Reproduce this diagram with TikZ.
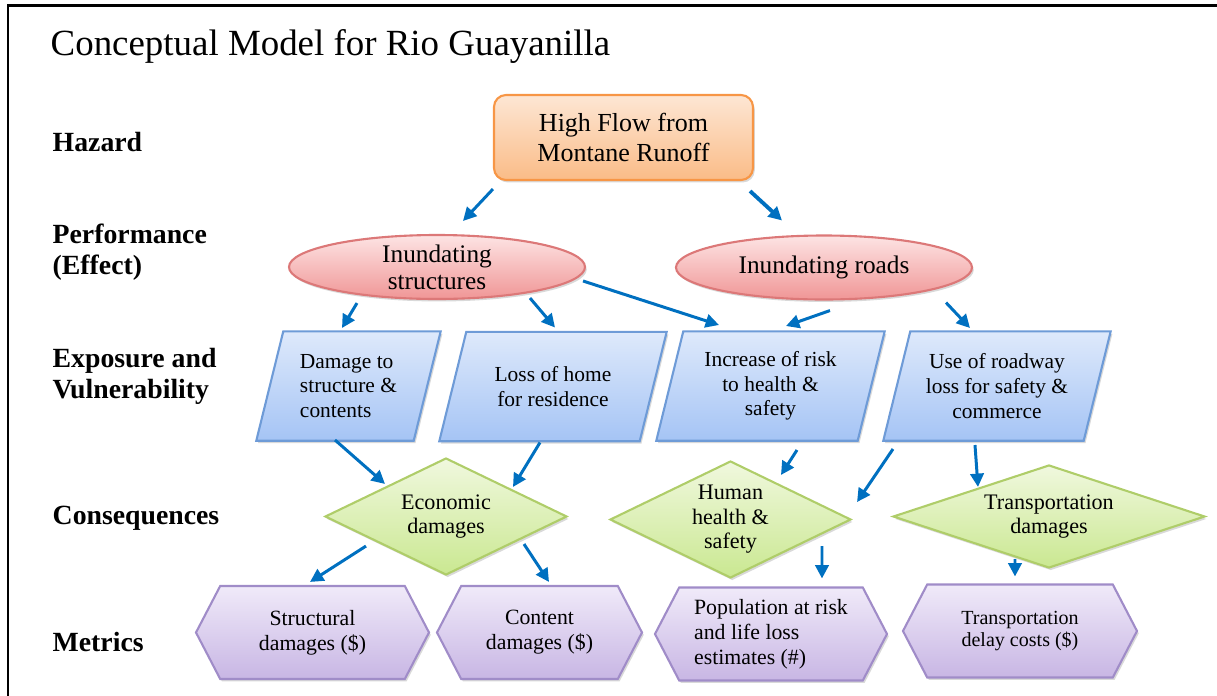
\documentclass[tikz,border=0pt]{standalone}
\usepackage{fontspec}
\setmainfont{Liberation Serif}
\usetikzlibrary{arrows.meta, calc, shapes.geometric, shapes.symbols, shadows, backgrounds}
\definecolor{orline}{RGB}{247,150,70}
\definecolor{ortop}{RGB}{253,230,212}
\definecolor{orbot}{RGB}{250,188,135}
\definecolor{pkline}{RGB}{220,120,120}
\definecolor{pktop}{RGB}{253,228,228}
\definecolor{pkbot}{RGB}{240,150,150}
\definecolor{blline}{RGB}{110,155,215}
\definecolor{bltop}{RGB}{222,233,251}
\definecolor{blbot}{RGB}{165,196,245}
\definecolor{grline}{RGB}{175,205,105}
\definecolor{grtop}{RGB}{240,248,222}
\definecolor{grbot}{RGB}{202,232,145}
\definecolor{puline}{RGB}{160,140,200}
\definecolor{putop}{RGB}{240,234,249}
\definecolor{pubot}{RGB}{200,182,228}
\definecolor{arblue}{RGB}{0,112,192}
\tikzset{
  shad/.style    = {drop shadow={shadow xshift=0.5pt, shadow yshift=-0.7pt,
                   opacity=0.25, fill=black!60}},
  hazard/.style  = {draw=orline, semithick, rounded corners=1.2mm, top color=ortop,
                   bottom color=orbot, minimum width=2.59cm, minimum height=0.85cm,
                   align=center, font=\fontsize{7.4}{8.5}\selectfont, shad},
  effect/.style  = {ellipse, draw=pkline, semithick, top color=pktop, bottom color=pkbot,
                   minimum width=2.96cm, minimum height=0.64cm, inner sep=0pt,
                   align=center, font=\fontsize{7.2}{7.7}\selectfont, shad},
  expo/.style    = {minimum height=1.08cm, inner sep=0pt, align=center,
                   font=\fontsize{6.1}{7}\selectfont},
  expofill/.style= {draw=blline, semithick, top color=bltop, bottom color=blbot, shad},
  conseq/.style  = {diamond, draw=grline, semithick, top color=grtop, bottom color=grbot,
                   inner sep=0pt, aspect=2, align=center,
                   font=\fontsize{6.3}{7}\selectfont, shad},
  metric/.style  = {signal, signal to=east and west, signal pointer angle=125,
                   draw=puline, semithick, top color=putop, bottom color=pubot,
                   minimum height=0.93cm, inner sep=0pt, align=center,
                   font=\fontsize{6.2}{7.1}\selectfont, shad},
  link/.style    = {draw=arblue, line width=0.85pt, -{Triangle[length=3.8pt, width=3.8pt]}},
  rowlab/.style  = {anchor=west, align=left, inner sep=0pt,
                   font=\fontsize{7.9}{8.8}\selectfont\bfseries},
}
\newcommand{\slant}{0.27}

\begin{document}
\begin{tikzpicture}[x=1cm, y=1cm]
  \useasboundingbox (0,0) rectangle (12.17,-6.95);
  \draw[line width=0.85pt] (0.08,-6.96) -- (0.08,-0.05) -- (12.18,-0.05);
  \node[anchor=base west, inner sep=0pt, font=\fontsize{10.5}{12}\selectfont] (title)
    at (0.50,-0.55) {Conceptual Model for Rio Guayanilla};

  \node[rowlab] (lhaz)  at (0.52,-1.42)  {Hazard};
  \node[rowlab] (lperf) at (0.52,-2.52)  {Performance\\(Effect)};
  \node[rowlab] (lexp)  at (0.52,-3.765) {Exposure and\\Vulnerability};
  \node[rowlab] (lcons) at (0.52,-5.18)  {Consequences};
  \node[rowlab] (lmet)  at (0.52,-6.42)  {Metrics};

  \node[hazard] (hazbox) at (6.235,-1.375) {High Flow from\\Montane Runoff};

  \node[effect] (instr)  at (4.37,-2.67)  {Inundating\\structures};
  \node[effect] (inroad) at (8.24,-2.675) {Inundating roads};

  \node[expo, minimum width=1.83cm, align=left] (damage) at (3.485,-3.86)
    {Damage to\\structure \&\\contents};
  \node[expo, minimum width=2.26cm] (home) at (5.53,-3.865) {Loss of home\\for residence};
  \node[expo, minimum width=2.27cm] (risk) at (7.705,-3.86)
    {Increase of risk\\to health \&\\safety};
  \node[expo, minimum width=2.26cm] (road) at (9.97,-3.86)
    {Use of roadway\\loss for safety \&\\commerce};
  % parallelograms behind the exposure texts
  \begin{scope}[on background layer]
    \foreach \n in {damage, home, risk, road}
      \path[expofill] ($(\n.north west)+(\slant,0)$) -- (\n.north east)
        -- ($(\n.south east)+(-\slant,0)$) -- (\n.south west) -- cycle;
  \end{scope}

  \node[conseq, minimum width=2.42cm, minimum height=1.17cm] (econ) at (4.46,-5.165)
    {Economic\\damages};
  \node[conseq, minimum width=2.41cm, minimum height=1.17cm] (human) at (7.305,-5.195)
    {Human\\health \&\\safety};
  \node[conseq, minimum width=3.12cm, minimum height=1.03cm, aspect=3] (trans)
    at (10.49,-5.165) {Transportation\\damages};

  \node[metric, minimum width=2.33cm] (struct) at (3.125,-6.325)
    {Structural\\damages (\$)};
  \node[metric, minimum width=2.05cm] (content) at (5.395,-6.325)
    {Content\\damages (\$)};
  \node[metric, minimum width=2.32cm, align=left] (pop) at (7.71,-6.34)
    {Population at risk\\and life loss\\estimates (\#)};
  \node[metric, minimum width=2.34cm, font=\fontsize{5.7}{6.4}\selectfont] (delay)
    at (10.20,-6.31) {Transportation\\delay costs (\$)};

  % hazard to effects
  \draw[link] ($(hazbox.south west)+(0,-0.08)$) -- ($(instr.north)+(0.26,0.13)$);
  \draw[link, line width=1.1pt] ($(hazbox.south east)+(-0.04,-0.10)$)
    -- ($(inroad.north)+(-0.42,0.14)$);
  % effects to exposure
  \draw[link] ($(instr.south)+(-0.80,-0.03)$) -- ($(damage.center)+(-0.065,0.58)$);
  \draw[link] ($(instr.south)+(0.93,0.02)$) -- ($(home.center)+(0.02,0.59)$);
  \draw[link] ($(instr.east)+(-0.03,-0.14)$) -- ($(risk.center)+(-0.515,0.61)$);
  \draw[link] ($(inroad.south)+(0.06,-0.10)$) -- ($(risk.center)+(0.155,0.60)$);
  \draw[link] ($(inroad.south)+(1.22,-0.02)$) -- ($(road.center)+(-0.27,0.58)$);
  % exposure to consequences
  \draw[link] ($(damage.center)+(-0.135,-0.54)$) -- ($(econ.north)+(-0.61,-0.27)$);
  \draw[link] ($(home.center)+(-0.13,-0.56)$) -- ($(econ.north)+(0.67,-0.30)$);
  \draw[link] ($(risk.center)+(0.265,-0.64)$) -- ($(human.north)+(0.505,-0.15)$);
  \draw[link] ($(road.center)+(-1.04,-0.63)$) -- ($(human.east)+(0.05,0.175)$);
  \draw[link] ($(road.center)+(-0.22,-0.59)$) -- ($(trans.north)+(-0.71,-0.23)$);
  % consequences to metrics
  \draw[link] ($(econ.south)+(-0.80,0.30)$) -- ($(struct.north)+(-0.025,0.03)$);
  \draw[link] ($(econ.south)+(0.78,0.32)$) -- ($(content.north)+(0.095,0.03)$);
  \draw[link] ($(human.south)+(0.915,0.33)$) -- ($(pop.north)+(0.51,0.08)$);
  \draw[link] ($(trans.south)+(-0.34,0.10)$) -- ($(delay.north)+(-0.05,0.07)$);
\end{tikzpicture}
\end{document}
